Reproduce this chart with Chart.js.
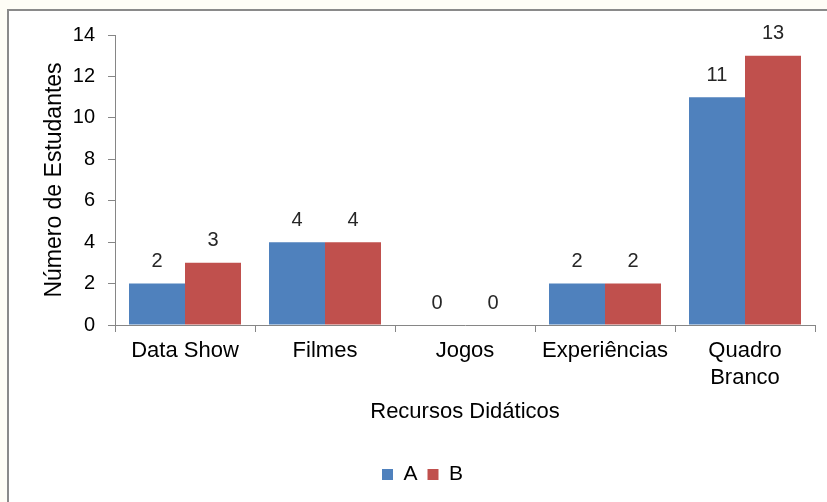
<!DOCTYPE html>
<html>
<head>
<meta charset="utf-8">
<script src="https://cdn.jsdelivr.net/npm/chart.js@4/dist/chart.umd.min.js"></script>
<style>
  html, body { margin: 0; padding: 0; background: #fefdf6; }
  #wrap { position: relative; width: 827px; height: 502px; overflow: hidden; }
  #frame {
    position: absolute; left: 7px; top: 9px; width: 900px; height: 600px;
    background: #ffffff; border: 2px solid #8a8a8a;
  }
  #chart { position: absolute; left: 0; top: 0; }
</style>
</head>
<body>
<div id="wrap">
  <div id="frame"></div>
  <canvas id="chart" width="827" height="502"></canvas>
</div>
<script>
// dados do gráfico
const categorias = ['Data Show', 'Filmes', 'Jogos', 'Experiências', ['Quadro', 'Branco']];
const serieA = [2, 4, 0, 2, 11];
const serieB = [3, 4, 0, 2, 13];
const yTicks = [0, 2, 4, 6, 8, 10, 12, 14];

const FONT = "'Liberation Sans', Arial, sans-serif";
const axisGray = '#868686';

// escreve o valor em cima de cada barra
const rotulosBarras = {
  id: 'rotulosBarras',
  afterDatasetsDraw(chart) {
    const ctx = chart.ctx;
    ctx.save();
    ctx.font = '20px ' + FONT;
    ctx.fillStyle = '#262626';
    ctx.textAlign = 'center';
    ctx.textBaseline = 'middle';
    chart.data.datasets.forEach((ds, i) => {
      const meta = chart.getDatasetMeta(i);
      meta.data.forEach((bar, j) => {
        ctx.fillText(String(ds.data[j]), bar.x, bar.y - 22);
      });
    });
    ctx.restore();
  }
};

new Chart(document.getElementById('chart'), {
  type: 'bar',
  data: {
    labels: categorias,
    datasets: [
      { label: 'A', data: serieA, backgroundColor: '#4f81bd', borderWidth: 0 },
      { label: 'B', data: serieB, backgroundColor: '#c0504d', borderWidth: 0 }
    ]
  },
  options: {
    responsive: false,
    animation: false,
    layout: { padding: { left: 30, top: 35, right: 12, bottom: 7 } },
    datasets: { bar: { categoryPercentage: 0.8, barPercentage: 1.0 } },
    plugins: {
      tooltip: { enabled: false },
      legend: {
        position: 'bottom',
        labels: {
          boxWidth: 11, boxHeight: 11, padding: 10,
          color: '#000', font: { family: FONT, size: 21 }
        }
      }
    },
    scales: {
      x: {
        grid: { display: true, drawOnChartArea: false, drawTicks: true, tickLength: 7, color: axisGray, offset: true },
        border: { color: axisGray, width: 1 },
        ticks: { color: '#000', padding: 6, maxRotation: 0, font: { family: FONT, size: 22 } },
        title: {
          display: true, text: 'Recursos Didáticos', color: '#000',
          font: { family: FONT, size: 22 }, padding: { top: 0, bottom: 29 }
        },
        afterFit(scale) { scale.height = 129; }
      },
      y: {
        min: 0, max: 14,
        afterBuildTicks(scale) { scale.ticks = yTicks.map(v => ({ value: v })); },
        grid: { display: true, drawOnChartArea: false, drawTicks: true, tickLength: 7, color: axisGray },
        border: { color: axisGray, width: 1 },
        ticks: { color: '#000', padding: 13, font: { family: FONT, size: 20 } },
        title: {
          display: true, text: 'Número de Estudantes', color: '#000',
          font: { family: FONT, size: 23 }, padding: { top: 11, bottom: 0 }
        },
        afterFit(scale) { scale.width = 85; }
      }
    }
  },
  plugins: [rotulosBarras]
});
</script>
</body>
</html>
